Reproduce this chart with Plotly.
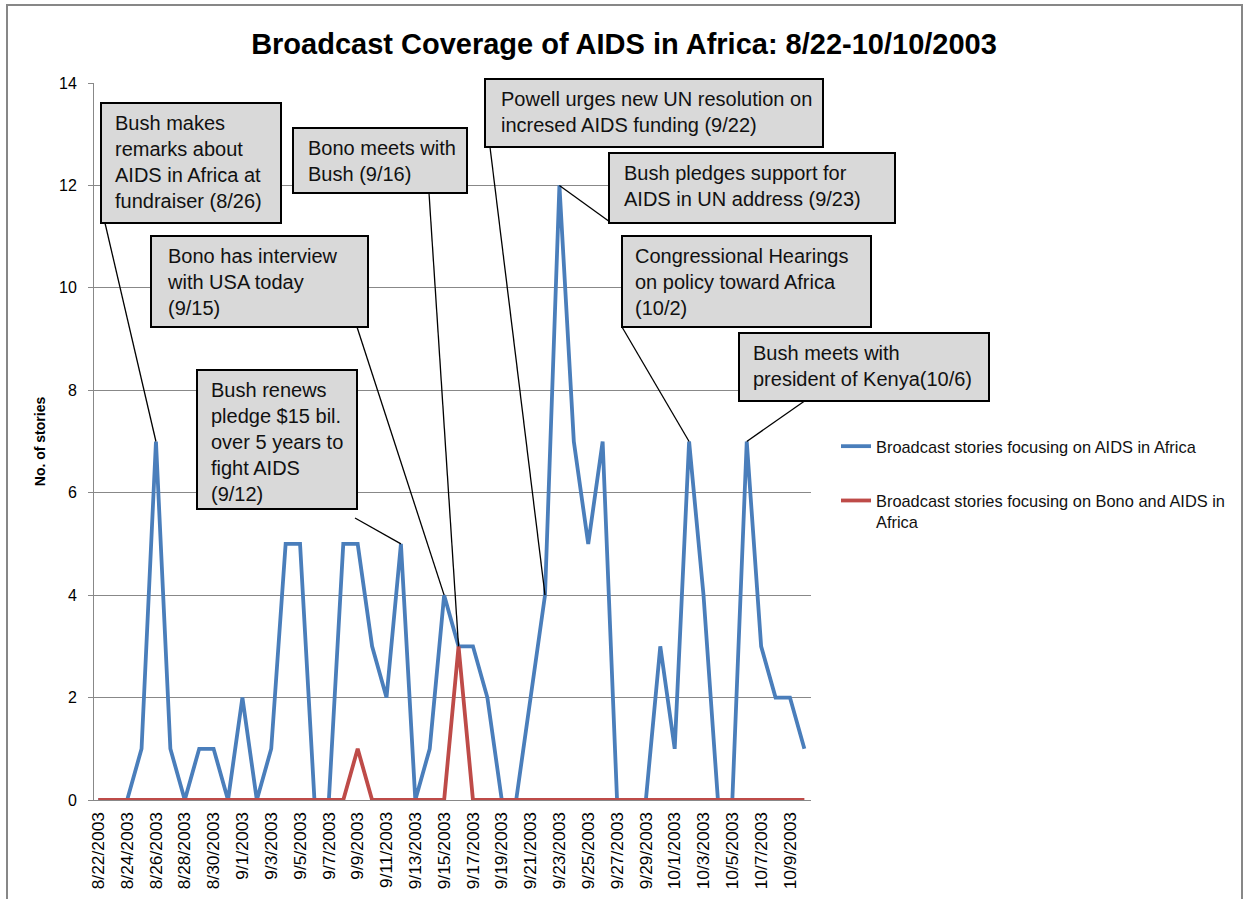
import plotly.graph_objects as go

# Daily broadcast story counts, 8/22/2003 - 10/10/2003
dates = [
    "8/22/2003", "8/23/2003", "8/24/2003", "8/25/2003", "8/26/2003",
    "8/27/2003", "8/28/2003", "8/29/2003", "8/30/2003", "8/31/2003",
    "9/1/2003", "9/2/2003", "9/3/2003", "9/4/2003", "9/5/2003",
    "9/6/2003", "9/7/2003", "9/8/2003", "9/9/2003", "9/10/2003",
    "9/11/2003", "9/12/2003", "9/13/2003", "9/14/2003", "9/15/2003",
    "9/16/2003", "9/17/2003", "9/18/2003", "9/19/2003", "9/20/2003",
    "9/21/2003", "9/22/2003", "9/23/2003", "9/24/2003", "9/25/2003",
    "9/26/2003", "9/27/2003", "9/28/2003", "9/29/2003", "9/30/2003",
    "10/1/2003", "10/2/2003", "10/3/2003", "10/4/2003", "10/5/2003",
    "10/6/2003", "10/7/2003", "10/8/2003", "10/9/2003", "10/10/2003",
]
aids_africa = [
    0, 0, 0, 1, 7, 1, 0, 1, 1, 0,
    2, 0, 1, 5, 5, 0, 0, 5, 5, 3,
    2, 5, 0, 1, 4, 3, 3, 2, 0, 0,
    2, 4, 12, 7, 5, 7, 0, 0, 0, 3,
    1, 7, 4, 0, 0, 7, 3, 2, 2, 1,
]
bono_aids = [
    0, 0, 0, 0, 0, 0, 0, 0, 0, 0,
    0, 0, 0, 0, 0, 0, 0, 0, 1, 0,
    0, 0, 0, 0, 0, 3, 0, 0, 0, 0,
    0, 0, 0, 0, 0, 0, 0, 0, 0, 0,
    0, 0, 0, 0, 0, 0, 0, 0, 0, 0,
]
tick_dates = dates[::2]
y_ticks = [0, 2, 4, 6, 8, 10, 12, 14]

# Event call-outs: date, text lines, box (left, top, right, bottom) in px,
# text left px, leader-line start px
events = [
    ("8/26/2003", ["Bush makes", "remarks about", "AIDS in Africa at", "fundraiser (8/26)"],
     (101, 103, 281, 223), 114, (105, 223)),
    ("9/16/2003", ["Bono meets with", "Bush (9/16)"],
     (293, 128, 467, 193), 307, (429, 193)),
    ("9/15/2003", ["Bono has interview", "with USA today", "(9/15)"],
     (151, 236, 368, 327), 166, (357, 327)),
    ("9/12/2003", ["Bush renews", "pledge $15 bil.", "over 5 years to", "fight AIDS", "(9/12)"],
     (197, 370, 357, 509), 210, (355, 518)),
    ("9/22/2003", ["Powell urges new UN resolution on", "incresed AIDS funding (9/22)"],
     (485, 79, 823, 147), 500, (490, 147)),
    ("9/23/2003", ["Bush pledges support for", "AIDS in UN address (9/23)"],
     (609, 153, 895, 223), 623, (610, 222)),
    ("10/2/2003", ["Congressional Hearings", "on policy toward Africa", "(10/2)"],
     (622, 236, 871, 327), 634, (622, 327)),
    ("10/6/2003", ["Bush meets with", "president of Kenya(10/6)"],
     (739, 333, 989, 401), 752, (806, 400)),
]

W, H = 1244, 899
L, R, T, B = 94, 811, 83, 800
X_RANGE = [-0.3, 49.46]
Y_RANGE = [0, 14]
FONT = "Liberation Sans, Arial, sans-serif"
BLUE = "#4A7EBB"
RED = "#BE4B48"
GRID = "#888888"


def paper_x(px):
    return (px - L) / (R - L)


def paper_y(py):
    return (B - py) / (B - T)


def data_x(px):
    return X_RANGE[0] + (px - L) / (R - L) * (X_RANGE[1] - X_RANGE[0])


def data_y(py):
    return Y_RANGE[0] + (B - py) / (B - T) * (Y_RANGE[1] - Y_RANGE[0])


fig = go.Figure()
fig.add_trace(go.Scatter(
    x=dates, y=aids_africa, mode="lines",
    name="Broadcast stories focusing on AIDS in Africa",
    line=dict(color=BLUE, width=3.8), legendgroup="a",
))
fig.add_trace(go.Scatter(
    x=dates, y=bono_aids, mode="lines",
    name="Broadcast stories focusing on Bono and AIDS in<br>Africa",
    line=dict(color=RED, width=3.8), legendgroup="b",
))

shapes = []
annotations = []

# outer chart border
shapes.append(dict(type="rect", xref="paper", yref="paper",
                   x0=paper_x(7), x1=paper_x(1242), y0=paper_y(5), y1=paper_y(910),
                   line=dict(color="#878787", width=2), fillcolor="rgba(0,0,0,0)",
                   layer="below"))

for date, lines, (bx0, by0, bx1, by1), tx, (lx, ly) in events:
    i = dates.index(date)
    shapes.append(dict(type="line", xref="x", yref="y",
                       x0=data_x(lx), y0=data_y(ly), x1=i, y1=aids_africa[i],
                       line=dict(color="black", width=1.3)))
    shapes.append(dict(type="rect", xref="paper", yref="paper",
                       x0=paper_x(bx0), x1=paper_x(bx1), y0=paper_y(by1), y1=paper_y(by0),
                       line=dict(color="black", width=2), fillcolor="#D9D9D9"))
    annotations.append(dict(
        xref="paper", yref="paper", x=paper_x(tx), y=paper_y(by0 + 8),
        xanchor="left", yanchor="top", align="left", showarrow=False,
        text="<br>".join(lines), borderpad=0,
        font=dict(family=FONT, size=20, color="#111111"),
    ))

fig.update_layout(
    width=W, height=H,
    margin=dict(l=L, r=W - R, t=T, b=H - B, pad=0, autoexpand=False),
    paper_bgcolor="white", plot_bgcolor="white",
    title=dict(text="<b>Broadcast Coverage of AIDS in Africa: 8/22-10/10/2003</b>",
               xref="container", yref="container", x=624 / W, y=1 - 44 / H,
               xanchor="center", yanchor="middle",
               font=dict(family=FONT, size=29, color="black")),
    font=dict(family=FONT, color="black"),
    showlegend=True,
    legend=dict(x=paper_x(836), y=paper_y(429), xanchor="left", yanchor="top",
                font=dict(family=FONT, size=16.4, color="#111111"),
                tracegroupgap=30, valign="top", bgcolor="rgba(0,0,0,0)",
                traceorder="grouped"),
    shapes=shapes,
    annotations=annotations,
)

fig.update_xaxes(
    type="category", range=X_RANGE, automargin=False,
    tickmode="array", tickvals=tick_dates, ticktext=tick_dates,
    tickangle=-90, tickfont=dict(family=FONT, size=17.4, color="black"),
    showgrid=False, showline=True, linecolor=GRID, linewidth=1,
    ticks="", zeroline=False, ticklabelstandoff=4,
)
fig.update_yaxes(
    range=Y_RANGE, tickmode="array", tickvals=y_ticks, automargin=False,
    tickfont=dict(family=FONT, size=16, color="black"),
    showgrid=True, gridcolor=GRID, gridwidth=1,
    showline=True, linecolor=GRID, linewidth=1,
    ticks="outside", ticklen=5, tickcolor=GRID,
    ticklabelstandoff=8,
    zeroline=False,
    title=dict(text="<b>No. of stories</b>", standoff=10,
               font=dict(family=FONT, size=14, color="black")),
)

fig.write_html("out.html")
